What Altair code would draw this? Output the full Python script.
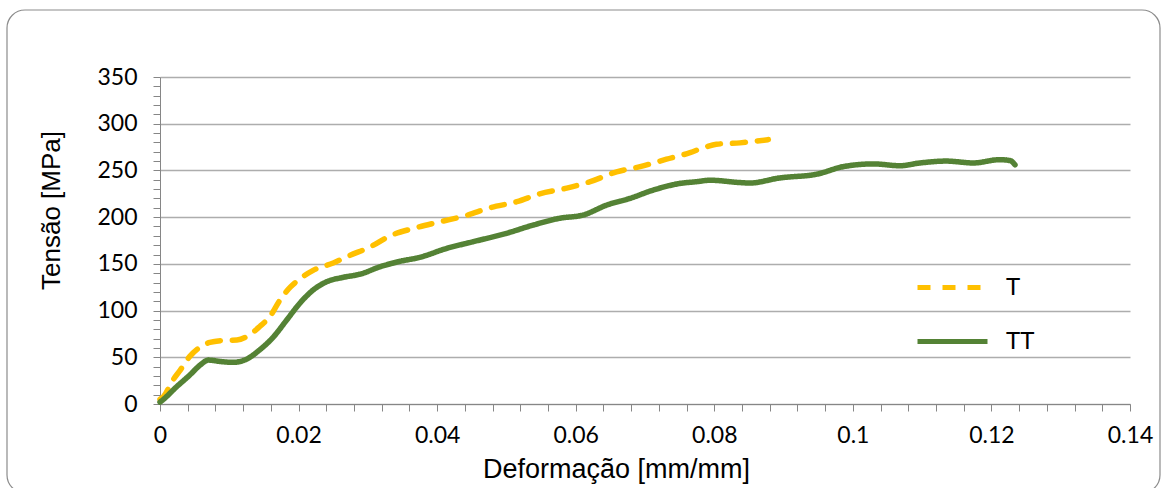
import altair as alt
import pandas as pd

# T series (dashed, yellow)
t_x = [0.0, 0.0005, 0.0019, 0.0029, 0.0043, 0.0058, 0.0072, 0.0091, 0.0111, 0.0125,
       0.0144, 0.0159, 0.0173, 0.0188, 0.0202, 0.0221, 0.025, 0.0274, 0.0303, 0.0332,
       0.0366, 0.0404, 0.0443, 0.0476, 0.0515, 0.0548, 0.0587, 0.0621, 0.0659, 0.0693,
       0.0731, 0.0765, 0.0787, 0.0803, 0.0837, 0.0878]
t_y = [5, 8, 26, 36, 51, 61, 66, 68, 68.5, 72,
       83, 94, 111, 125, 134, 143, 151, 159, 168, 180,
       188, 195, 202, 210, 216.5, 225, 231, 238, 248.5, 254,
       262, 269, 275, 278, 279.5, 283]

# TT series (solid, green)
tt_x = [0.0, 0.0005, 0.0024, 0.0043, 0.0058, 0.007, 0.0087, 0.0106, 0.0125, 0.0144,
        0.0164, 0.0183, 0.0202, 0.0221, 0.0241, 0.0265, 0.0289, 0.0318, 0.0344, 0.0375,
        0.0414, 0.0452, 0.05, 0.0539, 0.0577, 0.0611, 0.0645, 0.0678, 0.0712, 0.075,
        0.0775, 0.0794, 0.0837, 0.0851, 0.0895, 0.0948, 0.0986, 0.103, 0.1068, 0.1097,
        0.1135, 0.1174, 0.1212, 0.1227, 0.1234]
tt_y = [2, 5, 18.5, 31, 41.7, 47, 45.5, 44.6, 48, 58,
        72, 90, 108, 122, 131, 135.6, 139, 147, 152.3, 157,
        166.6, 173.7, 182.7, 191.6, 198.8, 202.3, 213, 220, 229, 236,
        238, 239.5, 237, 236.5, 242, 246, 254, 257, 255, 258,
        260, 258, 261.5, 260.5, 256]

series = ["T", "TT"]
colors = ["#FFC000", "#548235"]
dashes = [[13, 12], [1, 0]]

x_ticks = [round(i * 0.004, 3) for i in range(36)]
y_ticks = list(range(0, 351, 10))

df = pd.concat([
    pd.DataFrame({"x": t_x, "y": t_y, "s": "T", "o": range(len(t_x))}),
    pd.DataFrame({"x": tt_x, "y": tt_y, "s": "TT", "o": range(len(tt_x))}),
])

grid_cond = {"condition": {"test": "datum.value % 50 === 0", "value": 1}, "value": 0}

lines = alt.Chart(df).mark_line(strokeWidth=5.5, strokeCap="round", interpolate="monotone").encode(
    x=alt.X("x:Q", scale=alt.Scale(domain=[0, 0.14], nice=False),
            axis=alt.Axis(values=x_ticks, title="Deformação [mm/mm]", grid=False,
                          labelExpr="abs(datum.value*50 - round(datum.value*50)) < 0.001 ? format(datum.value, '~g') : ''",
                          labelFont="Lato", labelFontSize=23, labelColor="#000000", labelPadding=13,
                          labelFlush=False,
                          tickSize=7, tickColor="#868686", domainColor="#868686",
                          titleFont="Liberation Sans", titleFontSize=27, titleFontWeight="normal",
                          titleColor="#000000", titlePadding=9, titleX=456, labelOverlap=False)),
    y=alt.Y("y:Q", scale=alt.Scale(domain=[0, 350], nice=False),
            axis=alt.Axis(values=y_ticks, title="Tensão [MPa]",
                          labelExpr="datum.value % 50 === 0 ? datum.label : ''",
                          gridOpacity=grid_cond, gridColor="#ADADAD", gridWidth=1.3,
                          labelFont="Lato", labelFontSize=23, labelColor="#000000", labelPadding=16,
                          labelFlush=False,
                          tickSize=7, tickColor="#868686", domainColor="#868686",
                          titleFont="Liberation Sans", titleFontSize=26, titleFontWeight="normal",
                          titleColor="#000000", titlePadding=32, titleY=133, labelOverlap=False)),
    color=alt.Color("s:N", scale=alt.Scale(domain=series, range=colors),
                    legend=alt.Legend(title=None, orient="none", legendX=755, legendY=173,
                                      symbolType="stroke", symbolSize=4900, symbolStrokeWidth=5,
                                      labelFont="Lato", labelFontSize=24, labelColor="#000000",
                                      labelOffset=16, rowPadding=4, padding=0)),
    strokeDash=alt.StrokeDash("s:N", scale=alt.Scale(domain=series, range=dashes), legend=None),
    order="o:Q",
)

frame = alt.Chart(pd.DataFrame({"a": [0]})).mark_rect(
    fill=None, stroke="#8C8C8C", strokeWidth=1.2, cornerRadius=18, clip=False
).encode(
    x=alt.value(-153), x2=alt.value(1000), y=alt.value(-67), y2=alt.value(416)
)

chart = alt.layer(frame, lines).properties(
    width=970, height=327,
    autosize=alt.AutoSizeParams(type="none"),
    padding={"left": 160, "top": 77, "right": 34, "bottom": 84},
    background="white",
).configure_view(stroke=None)

chart.save("out.html", embed_options={"renderer": "svg", "actions": False})
